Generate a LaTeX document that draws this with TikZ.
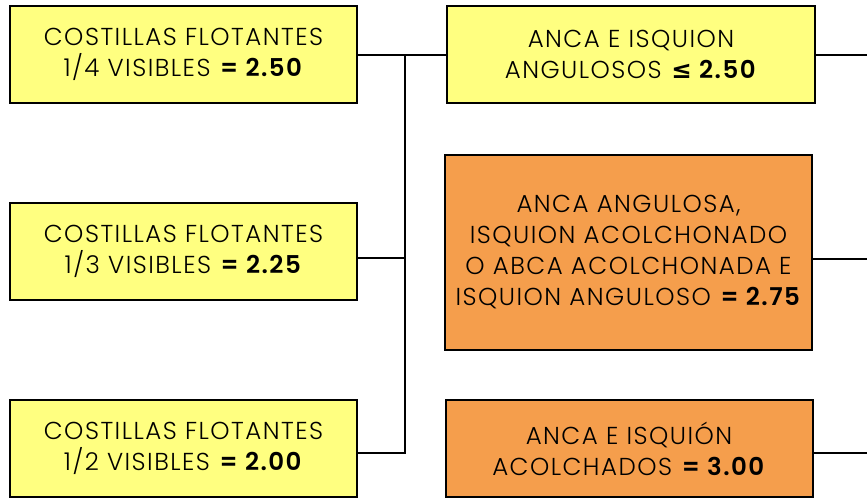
\documentclass[tikz,border=0pt]{standalone}
\usepackage{fontspec}
\setmainfont{Poppins Light}[LetterSpace=6, BoldFont={Poppins SemiBold}]
\newfontfamily\simbolo{DejaVu Sans}
\usetikzlibrary{positioning}
\definecolor{amarillo}{HTML}{FFFF80}
\definecolor{naranja}{HTML}{F59E4C}
\tikzstyle{caja} = [rectangle, draw=black, line width=2pt, align=center, text=black, font=\fontsize{24.5}{31}\selectfont, inner sep=0pt]
\tikzstyle{costilla} = [caja, fill=amarillo, minimum width=347pt, minimum height=97pt]
\tikzstyle{anca} = [caja, fill=amarillo, minimum width=368pt, minimum height=97pt]
\tikzstyle{ancaalta} = [caja, fill=naranja, minimum width=367pt, minimum height=97pt]
\tikzstyle{linea} = [line width=2pt]

\begin{document}
\begin{tikzpicture}[x=1pt, y=1pt]
	\useasboundingbox (0,0) rectangle (867,-499);
	\node (cost14) [costilla] at (183.5,-54.5) {COSTILLAS FLOTANTES\\1/4 VISIBLES \textbf{= 2.50}};
	\node (cost13) [costilla] at (183.5,-251.5) {COSTILLAS FLOTANTES\\1/3 VISIBLES \textbf{= 2.25}};
	\node (cost12) [costilla] at (183.5,-448.5) {COSTILLAS FLOTANTES\\1/2 VISIBLES \textbf{= 2.00}};
	\node (anca_angulosa) [anca] at (631,-54.5) {ANCA E ISQUION\\ANGULOSOS \textbf{{\simbolo\bfseries ≤} 2.50}};
	\node (anca_mixta) [ancaalta, minimum height=195pt] at (628.5,-252.5) {ANCA ANGULOSA,\\ISQUION ACOLCHONADO\\O ABCA ACOLCHONADA E\\ISQUION ANGULOSO \textbf{= 2.75}};
	\node (anca_acolchada) [ancaalta] at (629,-448.5) {ANCA E ISQUI\'ON\\ACOLCHADOS \textbf{= 3.00}};

	\coordinate (eje) at (405,0);
	\coordinate (borde) at (867,0);

	\draw [linea] (cost14.east) -- (anca_angulosa.west);
	\draw [linea] (cost14.east -| eje) |- ([yshift=-4.5pt]cost12.east);
	\draw [linea] ([yshift=-6.5pt]cost13.east) -- ([yshift=-6.5pt]cost13.east -| eje);

	\draw [linea] (anca_angulosa.east) -- (anca_angulosa.east -| borde);
	\draw [linea] ([yshift=-6pt]anca_mixta.east) -- ([yshift=-6pt]anca_mixta.east -| borde);
	\draw [linea] ([yshift=-4.5pt]anca_acolchada.east) -- ([yshift=-4.5pt]anca_acolchada.east -| borde);

\end{tikzpicture}
\end{document}
